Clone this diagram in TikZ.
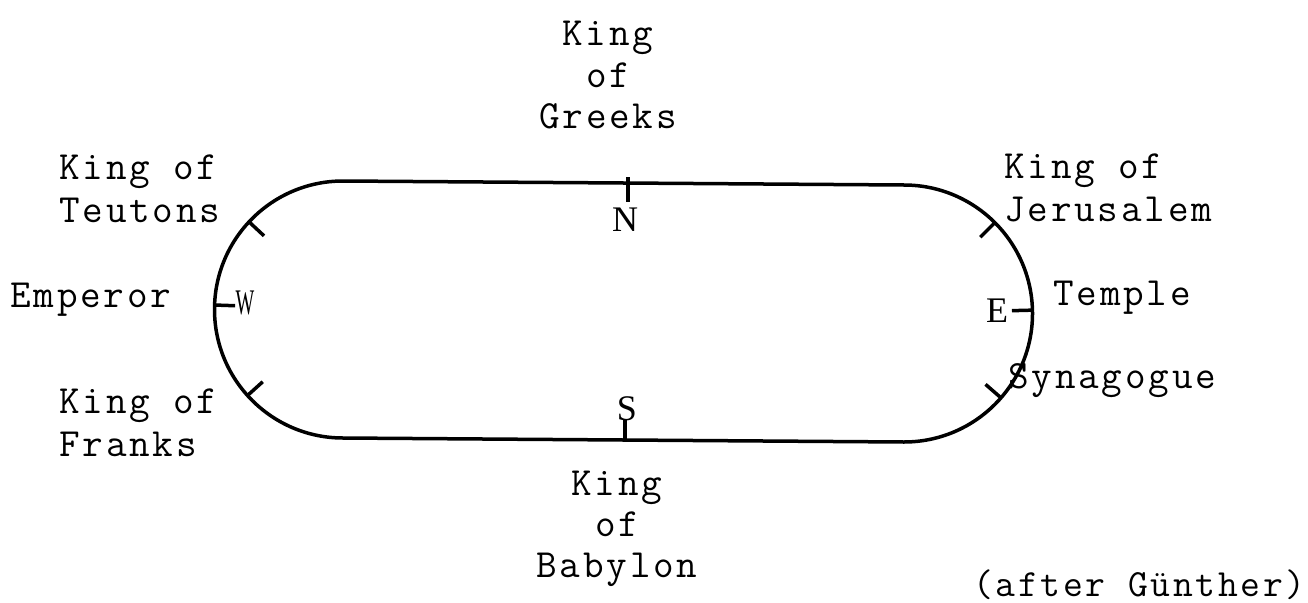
\documentclass[tikz,border=0pt]{standalone}
\usepackage{fontspec}
\newfontfamily\typer{Latin Modern Mono}[LetterSpace=7]
\newfontfamily\lettering{Liberation Serif}
\usetikzlibrary{calc}
\begin{document}
\begin{tikzpicture}[x=1pt,y=-1pt,
  track/.style={line width=3.5pt, line join=round},
  tickmark/.style={line width=3.5pt},
  label/.style={font={\typer\fontsize{40}{43}\selectfont}, inner sep=0pt, align=left, anchor=base west},
  labelc/.style={font={\typer\fontsize{40}{41}\selectfont}, inner sep=0pt, align=center, anchor=base},
  compass/.style={font={\lettering\fontsize{36}{36}\selectfont}, inner sep=0pt}]
\useasboundingbox (0,0) rectangle (1308,602);

% centres of the two semicircular ends
\coordinate (Lc) at (343,309.5);
\coordinate (Rc) at (904,313.5);
\def\rad{128.5}
\def\inner{108}

% the stadium-shaped course
\draw[track] (343,181) -- (904,185)
  arc[start angle=-90, end angle=90, radius=\rad]
  -- (343,438)
  arc[start angle=90, end angle=270, radius=\rad] -- cycle;

% marks on the ends
\draw[tickmark] ($(Lc)+(223:\rad)$) -- ($(Lc)+(223:\inner)$);
\draw[tickmark] ($(Lc)+(138:\rad)$) -- ($(Lc)+(138:\inner)$);
\draw[tickmark] ($(Lc)+(182:\rad)$) -- ($(Lc)+(182:\inner)$);
\draw[tickmark] ($(Rc)+(-45:\rad)$) -- ($(Rc)+(-45:\inner)$);
\draw[tickmark] ($(Rc)+(41:\rad)$) -- ($(Rc)+(41:\inner)$);
\draw[tickmark] ($(Rc)+(-1.5:\rad)$) -- ($(Rc)+(-1.5:\inner)$);
% marks on the straights
\coordinate (Ntop) at (628,177);
\coordinate (Nbot) at (628,202);
\coordinate (Stop) at (625,420);
\coordinate (Sbot) at (625,440);
\draw[tickmark] (Ntop) -- (Nbot);
\draw[tickmark] (Stop) -- (Sbot);

% compass letters
\node[compass] (n) at (625,220) {N};
\node[compass] (s) at (627,409) {S};
\node[compass] (e) at (997,311) {E};
\node[compass, xscale=0.55] (w) at (245,303) {W};

% names around the course
\node[labelc] (greeks) at (608,128) {King\\of\\Greeks};
\node[labelc] (babylon) at (617,577) {King\\of\\Babylon};
\node[label] (teutons) at (59,222) {King of\\Teutons};
\node[label] (franks) at (59,456) {King of\\Franks};
\node[label] (emperor) at (10,307) {Emperor};
\node[label] (jerusalem) at (1004,221) {King of\\Jerusalem};
\node[label] (temple) at (1053,305) {Temple};
\node[label] (synagogue) at (1008,388) {Synagogue};
\node[font={\typer\fontsize{38.5}{38.5}\selectfont}, inner sep=0pt, anchor=base east] (source) at (1306,596) {(after Günther)};
\end{tikzpicture}
\end{document}
